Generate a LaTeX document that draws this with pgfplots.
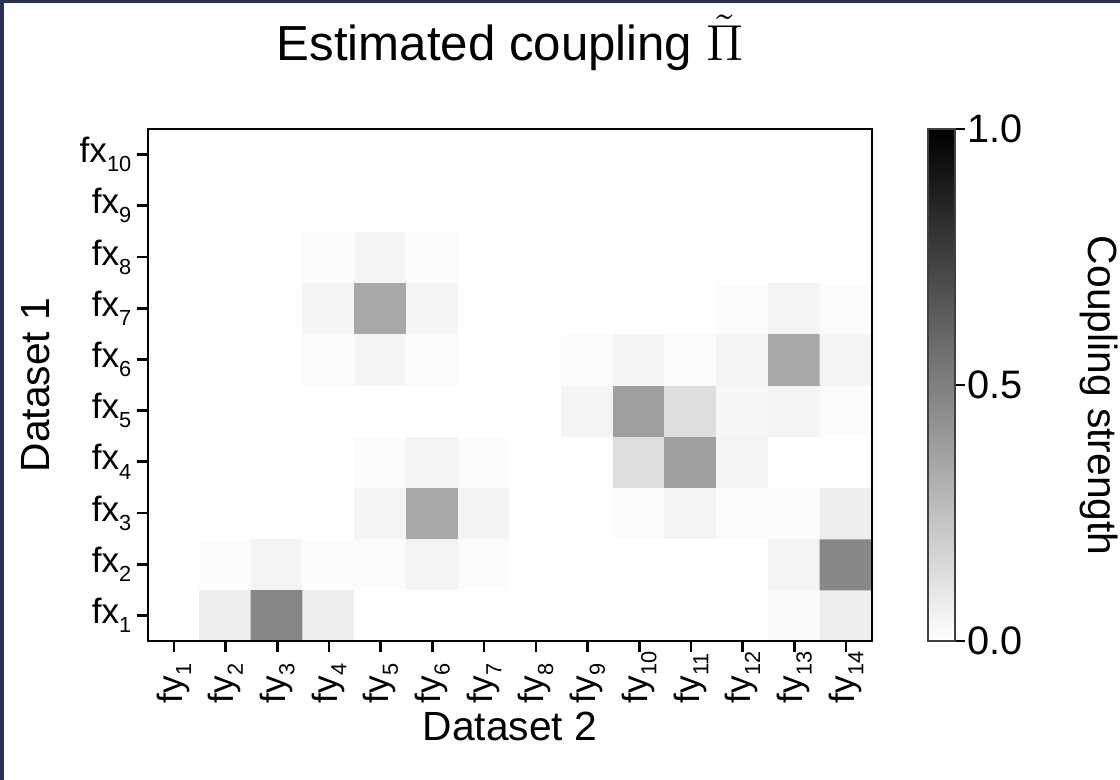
\documentclass[border=0pt]{standalone}
\usepackage{fontspec}
\setmainfont{Liberation Sans}
\usepackage{pgfplots}
\pgfplotsset{compat=1.18}
\definecolor{slideframe}{HTML}{2A3157}
\newcommand{\sub}[1]{\raisebox{-2.6pt}{\fontsize{6.2}{7}\selectfont #1}}

\begin{document}
\begin{tikzpicture}
\useasboundingbox (0,0) rectangle (11.2cm,7.8cm);
\fill[slideframe] (0,0) rectangle (0.04cm,7.8cm);
\fill[slideframe] (0,7.765cm) rectangle (11.2cm,7.8cm);
\begin{axis}[
  at={(1.48cm,1.39cm)}, anchor=south west,
  scale only axis, width=7.24cm, height=5.12cm,
  xmin=0.5, xmax=14.5, ymin=0.5, ymax=10.5,
  axis on top,
  axis line style={line width=0.75pt},
  tick style={line width=0.75pt, black},
  tick align=outside, major tick length=0.11cm,
  xtick pos=left, ytick pos=left,
  xtick={1,...,14}, ytick={1,...,10},
  xticklabels={fy\sub{1},fy\sub{2},fy\sub{3},fy\sub{4},fy\sub{5},fy\sub{6},fy\sub{7},fy\sub{8},fy\sub{9},fy\sub{10},fy\sub{11},fy\sub{12},fy\sub{13},fy\sub{14}},
  yticklabels={fx\sub{1},fx\sub{2},fx\sub{3},fx\sub{4},fx\sub{5},fx\sub{6},fx\sub{7},fx\sub{8},fx\sub{9},fx\sub{10}},
  ticklabel style={font=\fontsize{10}{12}\selectfont},
  xticklabel style={rotate=90, anchor=west, inner sep=0pt},
  xticklabel shift=0.52cm,
  yticklabel style={anchor=east, inner sep=0pt},
  yticklabel shift=0.05cm,
  title={Estimated coupling $\tilde{\Pi}$},
  title style={at={(axis description cs:0.5,1.092)}, anchor=base, font=\fontsize{14}{16}\selectfont},
  xlabel={Dataset 2},
  xlabel style={at={(axis description cs:0.5,-0.1934)}, anchor=base, font=\fontsize{11.6}{14}\selectfont},
  ylabel={Dataset 1},
  ylabel style={at={(axis description cs:-0.1354,0.5)}, anchor=base, font=\fontsize{11.6}{14}\selectfont},
  colormap={bw}{gray(0cm)=(1); gray(1cm)=(0)},
  point meta min=0, point meta max=1,
  colorbar,
  colorbar style={
    at={(parent axis.north east)}, anchor=north west, xshift=0.26cm,
    width=0.27cm,
    ytick={0,0.5,1},
    ytick pos=right, tick align=outside, major tick length=0.1cm,
    tick style={line width=0.6pt, black},
    axis line style={line width=0.5pt, black!75},
    yticklabel style={/pgf/number format/.cd, fixed, fixed zerofill, precision=1, assume math mode=true, /tikz/.cd, font=\fontsize{11.3}{13}\selectfont, inner sep=0pt, anchor=west},
    yticklabel shift=0.02cm,
    ylabel={Coupling strength},
    ylabel style={at={(axis description cs:5.93,0.479)}, rotate=180, anchor=base, font=\fontsize{11.6}{14}\selectfont},
  },
]
\addplot[matrix plot*, mesh/cols=14, point meta=explicit] coordinates {
(1,1)[0] (2,1)[0.07] (3,1)[0.47] (4,1)[0.067] (5,1)[0] (6,1)[0] (7,1)[0] (8,1)[0] (9,1)[0] (10,1)[0] (11,1)[0] (12,1)[0] (13,1)[0.02] (14,1)[0.067]
(1,2)[0] (2,2)[0.012] (3,2)[0.043] (4,2)[0.012] (5,2)[0.012] (6,2)[0.043] (7,2)[0.012] (8,2)[0] (9,2)[0] (10,2)[0] (11,2)[0] (12,2)[0] (13,2)[0.043] (14,2)[0.467]
(1,3)[0] (2,3)[0] (3,3)[0] (4,3)[0] (5,3)[0.043] (6,3)[0.337] (7,3)[0.048] (8,3)[0] (9,3)[0] (10,3)[0.012] (11,3)[0.043] (12,3)[0.012] (13,3)[0.012] (14,3)[0.067]
(1,4)[0] (2,4)[0] (3,4)[0] (4,4)[0] (5,4)[0.01] (6,4)[0.043] (7,4)[0.012] (8,4)[0] (9,4)[0.008] (10,4)[0.13] (11,4)[0.373] (12,4)[0.043] (13,4)[0] (14,4)[0]
(1,5)[0] (2,5)[0] (3,5)[0] (4,5)[0] (5,5)[0] (6,5)[0] (7,5)[0] (8,5)[0] (9,5)[0.043] (10,5)[0.373] (11,5)[0.13] (12,5)[0.03] (13,5)[0.043] (14,5)[0.012]
(1,6)[0] (2,6)[0] (3,6)[0] (4,6)[0.012] (5,6)[0.043] (6,6)[0.012] (7,6)[0] (8,6)[0] (9,6)[0.012] (10,6)[0.043] (11,6)[0.012] (12,6)[0.043] (13,6)[0.337] (14,6)[0.043]
(1,7)[0] (2,7)[0] (3,7)[0] (4,7)[0.043] (5,7)[0.337] (6,7)[0.043] (7,7)[0] (8,7)[0] (9,7)[0] (10,7)[0] (11,7)[0] (12,7)[0.012] (13,7)[0.043] (14,7)[0.012]
(1,8)[0] (2,8)[0] (3,8)[0] (4,8)[0.012] (5,8)[0.043] (6,8)[0.012] (7,8)[0] (8,8)[0] (9,8)[0] (10,8)[0] (11,8)[0] (12,8)[0] (13,8)[0] (14,8)[0]
(1,9)[0] (2,9)[0] (3,9)[0] (4,9)[0] (5,9)[0] (6,9)[0] (7,9)[0] (8,9)[0] (9,9)[0] (10,9)[0] (11,9)[0] (12,9)[0] (13,9)[0] (14,9)[0]
(1,10)[0] (2,10)[0] (3,10)[0] (4,10)[0] (5,10)[0] (6,10)[0] (7,10)[0] (8,10)[0] (9,10)[0] (10,10)[0] (11,10)[0] (12,10)[0] (13,10)[0] (14,10)[0]
};
\end{axis}
\end{tikzpicture}
\end{document}
